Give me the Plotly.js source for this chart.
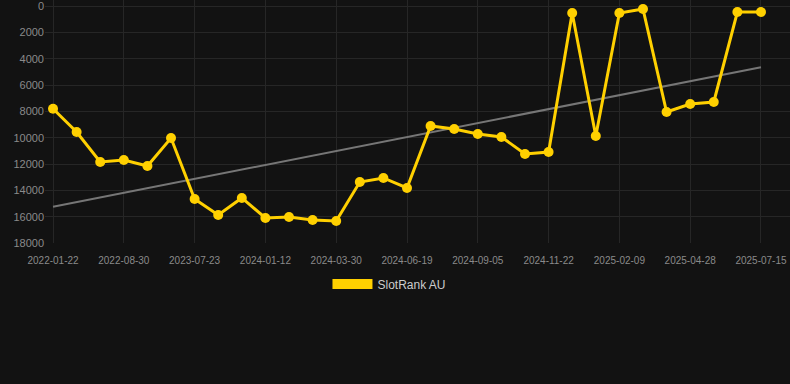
<!DOCTYPE html>
<html>
<head>
<meta charset="utf-8">
<script src="https://cdn.plot.ly/plotly-3.0.1.min.js"></script>
<style>
html,body{margin:0;padding:0;background:#121212;}
#chart{width:790px;height:384px;}
</style>
</head>
<body>
<div id="chart"></div>
<script>
// Rank values (lower is better), one per sampled date
const rankValues = [7800, 9570, 11850, 11700, 12150, 10030, 14660, 15870, 14580, 16100,
  16030, 16250, 16330, 13370, 13060, 13820, 9110, 9340, 9720, 9950,
  11240, 11090, 530, 9870, 530, 230, 8050, 7440, 7290, 460, 460];
// Visible date tick labels (every third sample)
const tickLabels = ['2022-01-22', '2022-08-30', '2023-07-23', '2024-01-12', '2024-03-30',
  '2024-06-19', '2024-09-05', '2024-11-22', '2025-02-09', '2025-04-28', '2025-07-15'];
const yTicks = [0, 2000, 4000, 6000, 8000, 10000, 12000, 14000, 16000, 18000];
const tickStep = 3;
const seriesName = 'SlotRank AU';

const xIdx = rankValues.map((_, i) => i);
const tickVals = tickLabels.map((_, i) => i * tickStep);

// Least squares trend line
const n = xIdx.length;
const mx = xIdx.reduce((a, b) => a + b, 0) / n;
const my = rankValues.reduce((a, b) => a + b, 0) / n;
let sxy = 0, sxx = 0;
for (let i = 0; i < n; i++) { sxy += (xIdx[i] - mx) * (rankValues[i] - my); sxx += (xIdx[i] - mx) ** 2; }
const slope = sxy / sxx;
const icpt = my - slope * mx;
const trendX = [xIdx[0], xIdx[n - 1]];
const trendY = trendX.map(x => icpt + slope * x);

const yellow = '#ffd000';

const traces = [
  {
    x: trendX, y: trendY, type: 'scatter', mode: 'lines',
    line: {color: '#767676', width: 2}, showlegend: false, hoverinfo: 'skip'
  },
  {
    x: xIdx, y: rankValues, type: 'scatter', mode: 'lines+markers',
    line: {color: yellow, width: 3}, marker: {color: yellow, size: 10},
    showlegend: false, cliponaxis: false, name: seriesName
  },
  {
    x: [null], y: [null], type: 'scatter', mode: 'lines',
    line: {color: yellow, width: 12}, name: seriesName, showlegend: true
  }
];

const layout = {
  width: 790, height: 384,
  paper_bgcolor: '#121212', plot_bgcolor: '#121212',
  margin: {l: 45, r: 0, t: 0, b: 141},
  font: {family: 'Liberation Sans, Arial, sans-serif', color: '#8a8a8a'},
  xaxis: {
    range: [-0.34, 31.23], tickvals: tickVals, ticktext: tickLabels,
    showgrid: true, gridcolor: '#262626', zeroline: false, showline: false,
    tickfont: {size: 10, color: '#8a8a8a'}, ticks: 'outside', ticklen: 8, tickcolor: 'rgba(0,0,0,0)'
  },
  yaxis: {
    range: [18000, -456], tickvals: yTicks, ticktext: yTicks.map(String),
    showgrid: true, gridcolor: '#262626', zeroline: false, showline: false,
    tickfont: {size: 11, color: '#8a8a8a'}, ticks: '', ticklabeloverflow: 'allow'
  },
  showlegend: true,
  legend: {
    orientation: 'h', xref: 'container', yref: 'container',
    x: 0.493, xanchor: 'center', y: 0.298, yanchor: 'top',
    itemwidth: 40, font: {size: 12, color: '#cccccc'}, bgcolor: 'rgba(0,0,0,0)'
  }
};

Plotly.newPlot('chart', traces, layout, {displayModeBar: false, staticPlot: true});
</script>
</body>
</html>
